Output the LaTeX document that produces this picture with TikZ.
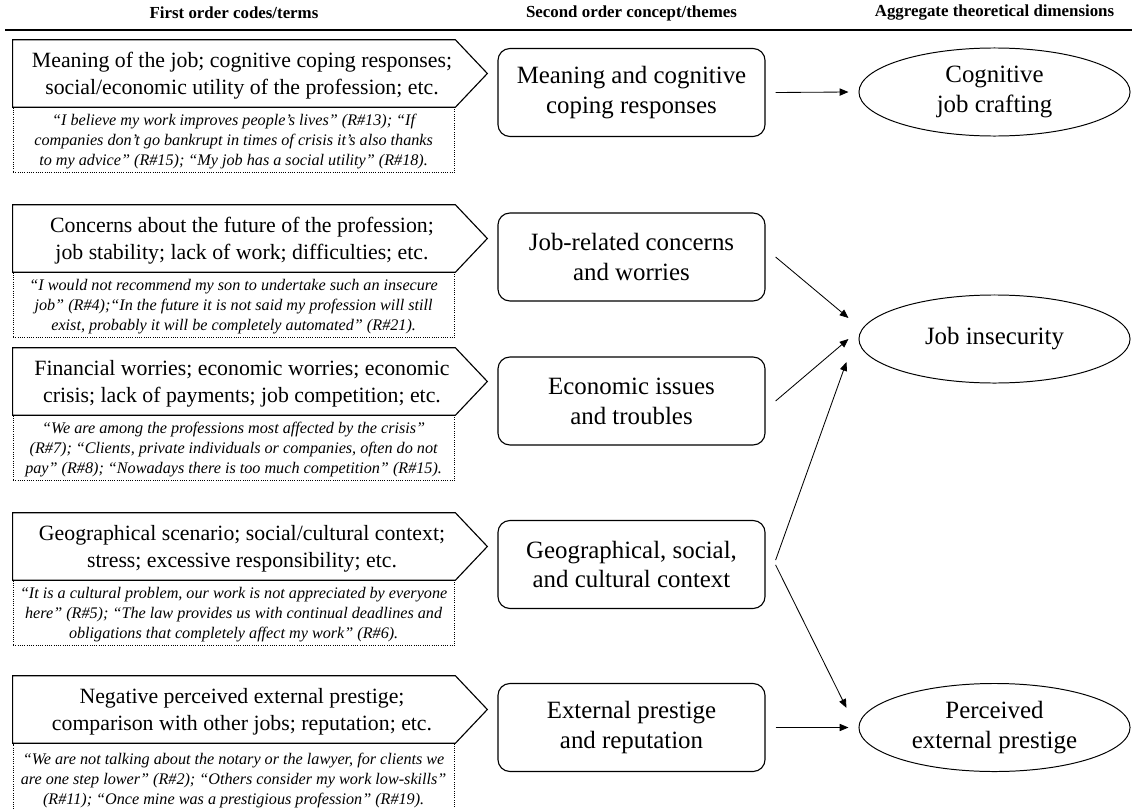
\documentclass[tikz,border=0pt]{standalone}
\usepackage{fontspec}
\setmainfont{Liberation Serif}
\usetikzlibrary{shapes.geometric,arrows.meta,positioning}

\tikzset{
  codebox/.style={minimum width=11.45cm, minimum height=1.675cm, inner sep=0pt,
    text depth=-1pt, align=center, font=\fontsize{15.5}{19.2}\selectfont},
  chev/.style={line width=0.8pt, line join=miter},
  quotebox/.style={draw, densely dotted, line width=0.6pt, minimum width=11.025cm,
    minimum height=1.625cm, inner sep=0pt, text depth=0pt, align=center,
    anchor=north west, font=\fontsize{11.5}{14.2}\selectfont\itshape},
  theme/.style={draw, rounded corners=0.3cm, line width=0.8pt, minimum width=6.675cm,
    minimum height=2.2cm, align=center, font=\fontsize{17.7}{21.3}\selectfont},
  dimbox/.style={draw, ellipse, line width=0.7pt, minimum width=6.775cm,
    minimum height=2.2cm, inner sep=0pt, align=center,
    font=\fontsize{17.7}{21.3}\selectfont},
  arr/.style={-{Triangle[length=2.2mm,width=1.8mm]}, line width=0.6pt},
  head/.style={font=\fontsize{12}{14}\selectfont\bfseries}
}

\begin{document}
\begin{tikzpicture}[x=0.025cm, y=-0.025cm]
\useasboundingbox (0,0) rectangle (1132,809);

% column heads
\node[head] (H1) at (234,13) {First order codes/terms};
\node[head] (H2) at (631.5,13) {Second order concept/themes};
\node[head] (H3) at (994.5,13) {Aggregate theoretical dimensions};
\draw[line width=1.5pt] (5,30) -- (1132,30);

% first order codes
\node[codebox] (A1) at (242,73.5) {Meaning of the job; cognitive coping responses;\\
  social/economic utility of the profession; etc.};
\node[codebox] (A2) at (242,238.5) {Concerns about the future of the profession;\\
  job stability; lack of work; difficulties; etc.};
\node[codebox] (A3) at (242,381.5) {Financial worries; economic worries; economic\\
  crisis; lack of payments; job competition; etc.};
\node[codebox] (A4) at (242,546.5) {Geographical scenario; social/cultural context;\\
  stress; excessive responsibility; etc.};
\node[codebox] (A5) at (242,709.5) {Negative perceived external prestige;\\
  comparison with other jobs; reputation; etc.};
\foreach \i in {1,...,5}
  \draw[chev] (A\i.north west) -- ([xshift=-0.4cm]A\i.north east)
    -- ([xshift=0.4cm]A\i.east) -- ([xshift=-0.4cm]A\i.south east)
    -- (A\i.south west) -- cycle;

% quotes
\node[quotebox] (Q1) at (A1.south west) {“I believe my work improves people’s lives” (R\#13); “If\\
  companies don’t go bankrupt in times of crisis it’s also thanks\\
  to my advice” (R\#15); “My job has a social utility” (R\#18).};
\node[quotebox] (Q2) at (A2.south west) {“I would not recommend my son to undertake such an insecure\\
  job” (R\#4);“In the future it is not said my profession will still\\
  exist, probably it will be completely automated” (R\#21).};
\node[quotebox] (Q3) at (A3.south west) {“We are among the professions most affected by the crisis”\\
  (R\#7); “Clients, private individuals or companies, often do not\\
  pay” (R\#8); “Nowadays there is too much competition” (R\#15).};
\node[quotebox] (Q4) at (A4.south west) {“It is a cultural problem, our work is not appreciated by everyone\\
  here” (R\#5); “The law provides us with continual deadlines and\\
  obligations that completely affect my work” (R\#6).};
\node[quotebox, minimum height=1.75cm] (Q5) at (A5.south west) {“We are not talking about the notary or the lawyer, for clients we\\
  are one step lower” (R\#2); “Others consider my work low-skills”\\
  (R\#11); “Once mine was a prestigious profession” (R\#19).};

% second order themes
\node[theme] (B1) at (631.5,92.5) {Meaning and cognitive\\ coping responses};
\node[theme] (B2) at (631.5,257) {Job-related concerns\\ and worries};
\node[theme] (B3) at (631.5,401) {Economic issues\\ and troubles};
\node[theme] (B4) at (631.5,564.5) {Geographical, social,\\ and cultural context};
\node[theme] (B5) at (631.5,727.5) {External prestige\\ and reputation};

% aggregate dimensions
\node[dimbox] (C1) at (994.5,92) {Cognitive\\ job crafting};
\node[dimbox] (C2) at (994.5,339) {Job insecurity};
\node[dimbox] (C3) at (994.5,727.5) {Perceived\\ external prestige};

\draw[arr] ([xshift=0.25cm]B1.east) -- ([xshift=-0.25cm]C1.west);
\draw[arr] ([xshift=0.25cm]B2.east) -- ([xshift=-0.25cm,yshift=0.525cm]C2.west);
\draw[arr] ([xshift=0.25cm]B3.east) -- ([xshift=-0.25cm]C2.west);
\draw[arr] ([xshift=0.25cm,yshift=0.11cm]B4.east) -- ([xshift=-0.3cm,yshift=-0.575cm]C2.west);
\draw[arr] ([xshift=0.25cm,yshift=-0.01cm]B4.east) -- ([xshift=-0.3cm,yshift=0.49cm]C3.west);
\draw[arr] ([xshift=0.25cm]B5.east) -- ([xshift=-0.25cm]C3.west);
\end{tikzpicture}
\end{document}
